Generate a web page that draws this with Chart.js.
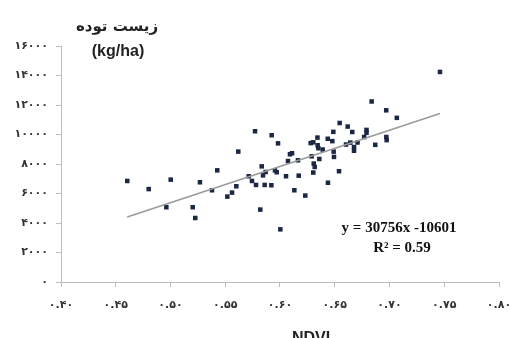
<!DOCTYPE html>
<html>
<head>
<meta charset="utf-8">
<script src="https://cdn.jsdelivr.net/npm/chart.js@4.4.0/dist/chart.umd.min.js"></script>
<style>
  html, body { margin: 0; padding: 0; background: #ffffff; }
  #wrap { width: 510px; height: 338px; }
</style>
</head>
<body>
<div id="wrap"><canvas id="myGraph" width="510" height="338"></canvas></div>
<script>
// NDVI vs biomass
var ndvi = [0.4605, 0.4801, 0.5002, 0.4962, 0.5203, 0.5226, 0.5269, 0.5379, 0.5427, 0.5519,
  0.5562, 0.5601, 0.5619, 0.5714, 0.5744, 0.5772, 0.5781, 0.5820, 0.5833, 0.5845,
  0.5860, 0.5869, 0.5921, 0.5924, 0.5954, 0.5970, 0.5982, 0.6003, 0.6055, 0.6073,
  0.6091, 0.6110, 0.6131, 0.6164, 0.6171, 0.6231, 0.6280, 0.6304, 0.6289, 0.6304,
  0.6308, 0.6317, 0.6342, 0.6344, 0.6350, 0.6359, 0.6390, 0.6436, 0.6438, 0.6478,
  0.6487, 0.6490, 0.6493, 0.6539, 0.6545, 0.6603, 0.6618, 0.6642, 0.6660, 0.6676,
  0.6676, 0.6708, 0.6769, 0.6790, 0.6790, 0.6837, 0.6870, 0.6970, 0.6971, 0.6974,
  0.7067, 0.7461];
var biomass = [6850, 6300, 6940, 5070, 5070, 4340, 6760, 6220, 7570, 5790,
  6060, 6490, 8840, 7170, 6850, 10220, 6580, 4910, 7840, 7230,
  6580, 7460, 6560, 9950, 7570, 7440, 9400, 3570, 7170, 8200,
  8660, 8730, 6220, 8250, 7210, 5860, 9420, 9470, 8520, 7420,
  8030, 7800, 9790, 9270, 9070, 8340, 8980, 9710, 6730, 9550,
  10180, 8840, 8480, 7510, 10780, 9320, 10540, 9450, 10170, 9150,
  8900, 9460, 9830, 10310, 10120, 12240, 9300, 11640, 9830, 9620,
  11130, 14240];

// trend line ends as drawn in the picture
var trendX = [0.4605, 0.7461];
var trendY = [4410, 11420];

var xTicks = [0.40, 0.45, 0.50, 0.55, 0.60, 0.65, 0.70, 0.75, 0.80];
var yTicks = [0, 2000, 4000, 6000, 8000, 10000, 12000, 14000, 16000];

var faDigits = "۰۱۲۳۴۵۶۷۸۹";
function toFa(s) {
  return String(s).replace(/[0-9]/g, d => faDigits[+d]);
}

var points = ndvi.map((v, i) => ({x: v, y: biomass[i]}));
var trend = trendX.map((v, i) => ({x: v, y: trendY[i]}));

var extraText = {
  id: "extraText",
  afterDraw: function(chart) {
    var c = chart.ctx;
    c.save();
    c.fillStyle = "#222";
    c.textAlign = "center";
    c.textBaseline = "alphabetic";
    c.font = "bold 15px 'DejaVu Sans'";
    c.fillText("زیست توده", 117, 31);
    c.font = "bold 16px 'Liberation Sans'";
    c.fillText("(kg/ha)", 118, 56);
    c.fillText("NDVI", 311, 343);
    c.font = "bold 15px 'Liberation Serif'";
    c.fillStyle = "#111";
    c.fillText("y = 30756x -10601", 399, 232);
    c.fillText("R² = 0.59", 402, 252);
    c.restore();
  }
};

var graph = document.getElementById("myGraph").getContext("2d");

new Chart(graph, {
  type: "scatter",
  data: {
    datasets: [
      {
        label: "trend",
        type: "line",
        data: trend,
        borderColor: "#9a9a9a",
        borderWidth: 1.5,
        pointRadius: 0,
        fill: false
      },
      {
        label: "biomass",
        data: points,
        pointStyle: "rect",
        pointRadius: 3.2,
        backgroundColor: "#1c2743",
        borderColor: "#1c2743",
        borderWidth: 0
      }
    ]
  },
  options: {
    responsive: false,
    animation: false,
    layout: {padding: {left: 0, right: 0, top: 46, bottom: 16}},
    plugins: {
      legend: {display: false},
      tooltip: {enabled: false}
    },
    scales: {
      x: {
        type: "linear",
        min: 0.40,
        max: 0.80,
        afterBuildTicks: s => { s.ticks = xTicks.map(v => ({value: v})); },
        afterFit: s => { s.height = 40; s.paddingLeft = 0; s.paddingRight = 11; },
        grid: {display: true, drawOnChartArea: false, drawTicks: true, tickLength: 5, color: "#bdbdbd"},
        border: {color: "#bdbdbd"},
        ticks: {
          color: "#333",
          font: {family: "DejaVu Sans", size: 11, weight: "bold"},
          padding: 12,
          maxRotation: 0,
          callback: v => toFa(v.toFixed(2))
        }
      },
      y: {
        min: 0,
        max: 16000,
        afterBuildTicks: s => { s.ticks = yTicks.map(v => ({value: v})); },
        afterFit: s => { s.width = 61; s.paddingTop = 0; s.paddingBottom = 0; },
        grid: {display: true, drawOnChartArea: false, drawTicks: true, tickLength: 5, color: "#bdbdbd"},
        border: {color: "#bdbdbd"},
        ticks: {
          color: "#333",
          font: {family: "DejaVu Sans", size: 11, weight: "bold"},
          padding: 8,
          callback: v => toFa(v)
        }
      }
    }
  },
  plugins: [extraText]
});
</script>
</body>
</html>
